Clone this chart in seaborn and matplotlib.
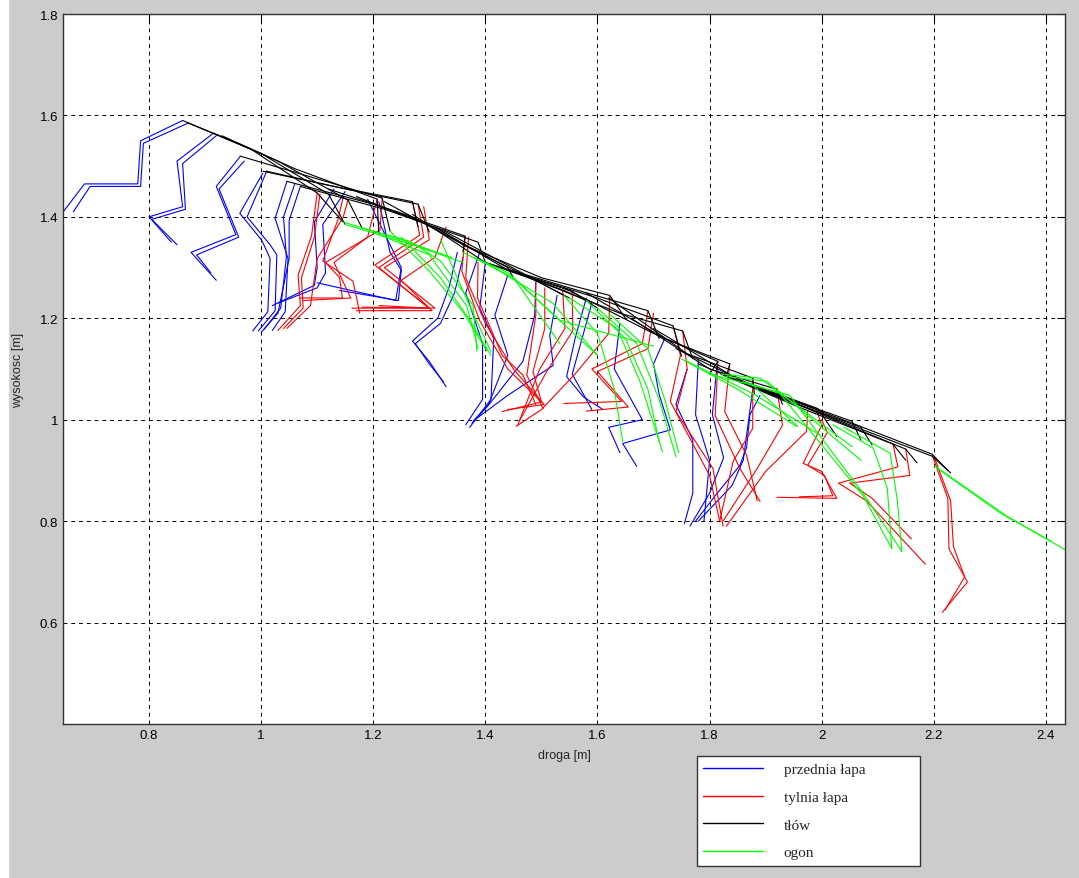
import numpy as np
import pandas as pd
import seaborn as sns
import matplotlib.pyplot as plt
from matplotlib.lines import Line2D
from matplotlib.patches import Rectangle

# stick-figure frames, data units [m]
front_paw = [
    [(0.86, 1.59), (0.785, 1.55), (0.78, 1.465), (0.685, 1.465), (0.647, 1.41)],
    [(0.87, 1.585), (0.79, 1.545), (0.785, 1.46), (0.695, 1.46), (0.665, 1.41)],
    [(0.915, 1.565), (0.85, 1.51), (0.86, 1.42), (0.80, 1.40), (0.84, 1.35)],
    [(0.92, 1.56), (0.86, 1.505), (0.865, 1.415), (0.805, 1.395), (0.85, 1.345)],
    [(0.962, 1.518), (0.92, 1.46), (0.955, 1.365), (0.875, 1.33), (0.92, 1.275)],
    [(0.97, 1.51), (0.925, 1.455), (0.96, 1.36), (0.885, 1.325), (0.91, 1.29)],
    [(1.003, 1.486), (0.962, 1.407), (1.001, 1.354), (1.016, 1.318), (1.012, 1.213), (0.985, 1.175)],
    [(1.01, 1.49), (0.975, 1.40), (1.016, 1.345), (1.028, 1.325), (1.025, 1.215), (0.995, 1.175)],
    [(1.046, 1.47), (1.025, 1.397), (1.048, 1.318), (1.043, 1.213), (1.02, 1.176)],
    [(1.07, 1.46), (1.05, 1.393), (1.05, 1.318), (1.03, 1.21), (1.0, 1.172)],
    [(1.06, 1.465), (1.04, 1.40), (1.045, 1.32), (1.035, 1.22), (1.005, 1.178)],
    [(1.13, 1.455), (1.095, 1.39), (1.10, 1.30), (1.095, 1.265), (1.02, 1.225)],
    [(1.15, 1.45), (1.11, 1.385), (1.115, 1.29), (1.10, 1.26), (1.03, 1.23)],
    [(1.19, 1.435), (1.25, 1.30), (1.24, 1.235), (1.10, 1.27)],
    [(1.21, 1.43), (1.23, 1.33), (1.25, 1.295), (1.245, 1.235), (1.14, 1.255)],
    [(1.35, 1.33), (1.335, 1.26), (1.315, 1.20), (1.27, 1.155), (1.30, 1.115), (1.33, 1.065)],
    [(1.36, 1.32), (1.345, 1.25), (1.32, 1.19), (1.275, 1.15), (1.30, 1.11), (1.325, 1.075)],
    [(1.39, 1.33), (1.365, 1.25), (1.395, 1.15), (1.395, 1.04), (1.365, 0.99)],
    [(1.40, 1.31), (1.39, 1.22), (1.415, 1.16), (1.41, 1.04), (1.372, 0.985)],
    [(1.44, 1.285), (1.417, 1.206), (1.44, 1.127), (1.405, 1.028), (1.376, 0.993)],
    [(1.49, 1.272), (1.488, 1.206), (1.467, 1.115), (1.408, 1.032), (1.378, 0.997)],
    [(1.528, 1.245), (1.515, 1.166), (1.521, 1.107), (1.44, 1.048), (1.385, 1.003)],
    [(1.58, 1.24), (1.56, 1.16), (1.545, 1.085), (1.575, 1.045), (1.61, 1.02)],
    [(1.59, 1.23), (1.57, 1.15), (1.555, 1.09), (1.59, 1.02)],
    [(1.64, 1.19), (1.63, 1.10), (1.68, 1.0), (1.62, 0.985), (1.64, 0.935)],
    [(1.72, 1.16), (1.70, 1.11), (1.71, 1.05), (1.73, 0.98), (1.645, 0.953), (1.67, 0.908)],
    [(1.76, 1.10), (1.74, 1.03), (1.77, 0.96), (1.77, 0.855), (1.755, 0.795)],
    [(1.78, 1.12), (1.775, 1.01), (1.80, 0.92), (1.79, 0.80)],
    [(1.813, 1.105), (1.805, 1.01), (1.825, 0.925), (1.80, 0.855), (1.765, 0.79)],
    [(1.877, 1.06), (1.86, 0.92), (1.84, 0.87), (1.78, 0.80)],
    [(1.89, 1.048), (1.872, 1.01), (1.866, 0.945), (1.854, 0.91), (1.81, 0.85), (1.775, 0.80)],
]

hind_paw = [
    [(1.10, 1.447), (1.09, 1.363), (1.066, 1.285), (1.07, 1.225), (1.03, 1.176)],
    [(1.105, 1.445), (1.095, 1.36), (1.072, 1.28), (1.075, 1.22), (1.04, 1.18)],
    [(1.155, 1.433), (1.146, 1.398), (1.10, 1.318), (1.088, 1.225), (1.046, 1.18)],
    [(1.146, 1.437), (1.137, 1.394), (1.11, 1.313), (1.164, 1.273), (1.176, 1.21)],
    [(1.207, 1.435), (1.19, 1.36), (1.13, 1.31), (1.16, 1.24), (1.075, 1.235)],
    [(1.216, 1.437), (1.212, 1.374), (1.115, 1.31), (1.14, 1.28), (1.145, 1.24), (1.07, 1.24)],
    [(1.27, 1.43), (1.283, 1.364), (1.203, 1.305), (1.30, 1.22), (1.162, 1.22)],
    [(1.28, 1.425), (1.29, 1.36), (1.21, 1.30), (1.305, 1.215), (1.17, 1.215)],
    [(1.29, 1.42), (1.30, 1.355), (1.22, 1.30), (1.31, 1.22), (1.18, 1.222)],
    [(1.33, 1.38), (1.31, 1.32), (1.25, 1.275), (1.30, 1.22), (1.21, 1.225)],
    [(1.364, 1.362), (1.358, 1.293), (1.39, 1.195), (1.44, 1.10), (1.50, 1.035), (1.43, 1.016)],
    [(1.37, 1.36), (1.365, 1.28), (1.40, 1.19), (1.45, 1.10), (1.505, 1.03), (1.44, 1.02)],
    [(1.387, 1.31), (1.386, 1.24), (1.43, 1.127), (1.467, 1.088), (1.49, 1.03)],
    [(1.49, 1.27), (1.49, 1.206), (1.474, 1.088), (1.503, 1.022)],
    [(1.506, 1.26), (1.506, 1.18), (1.485, 1.095), (1.50, 1.035)],
    [(1.538, 1.253), (1.542, 1.18), (1.497, 1.10), (1.458, 0.99)],
    [(1.555, 1.25), (1.556, 1.175), (1.51, 1.096), (1.462, 1.0)],
    [(1.622, 1.243), (1.62, 1.17), (1.56, 1.09), (1.50, 1.02), (1.455, 0.987)],
    [(1.69, 1.215), (1.68, 1.15), (1.59, 1.10), (1.643, 1.036), (1.54, 1.032)],
    [(1.70, 1.21), (1.69, 1.14), (1.60, 1.095), (1.655, 1.025), (1.58, 1.017)],
    [(1.735, 1.185), (1.748, 1.127), (1.73, 1.036), (1.80, 0.89), (1.818, 0.80)],
    [(1.752, 1.175), (1.76, 1.10), (1.74, 1.016), (1.806, 0.904), (1.824, 0.79)],
    [(1.815, 1.115), (1.81, 1.008), (1.854, 0.904), (1.89, 0.839)],
    [(1.836, 1.111), (1.827, 1.016), (1.866, 0.93), (1.885, 0.84)],
    [(1.877, 1.082), (1.877, 0.983), (1.842, 0.918), (1.818, 0.80)],
    [(1.92, 1.062), (1.93, 0.989), (1.885, 0.904), (1.824, 0.80)],
    [(1.975, 1.017), (1.973, 0.977), (1.90, 0.898), (1.83, 0.79)],
    [(1.99, 1.022), (2.0, 0.989), (1.967, 0.914), (2.0, 0.898), (2.027, 0.845), (1.92, 0.847)],
    [(2.0, 1.0), (2.01, 0.975), (1.975, 0.91), (2.005, 0.89), (2.02, 0.85), (1.96, 0.848)],
    [(2.127, 0.952), (2.136, 0.907), (2.03, 0.875), (2.08, 0.84), (2.185, 0.715)],
    [(2.15, 0.942), (2.157, 0.89), (2.05, 0.875), (2.09, 0.845), (2.16, 0.765)],
    [(2.197, 0.93), (2.225, 0.845), (2.227, 0.745), (2.26, 0.68), (2.215, 0.62)],
    [(2.20, 0.928), (2.23, 0.84), (2.235, 0.75), (2.255, 0.69), (2.22, 0.625)],
]

torso = [
    [(0.86, 1.59), (0.98, 1.535), (1.10, 1.447), (1.146, 1.39)],
    [(0.87, 1.585), (1.0, 1.525), (1.12, 1.445), (1.15, 1.385)],
    [(0.915, 1.565), (1.03, 1.51), (1.155, 1.433), (1.18, 1.378)],
    [(0.93, 1.56), (1.06, 1.495), (1.207, 1.435), (1.21, 1.365)],
    [(0.962, 1.52), (1.10, 1.475), (1.216, 1.437), (1.23, 1.372)],
    [(1.003, 1.49), (1.13, 1.46), (1.27, 1.43), (1.28, 1.38)],
    [(1.01, 1.49), (1.15, 1.455), (1.28, 1.425), (1.30, 1.37)],
    [(1.046, 1.47), (1.20, 1.425), (1.364, 1.362), (1.36, 1.33)],
    [(1.07, 1.46), (1.22, 1.415), (1.387, 1.35), (1.40, 1.31)],
    [(1.12, 1.455), (1.27, 1.40), (1.44, 1.30), (1.45, 1.28)],
    [(1.17, 1.44), (1.33, 1.37), (1.49, 1.275), (1.54, 1.245)],
    [(1.22, 1.43), (1.36, 1.345), (1.506, 1.265), (1.55, 1.24)],
    [(1.27, 1.405), (1.40, 1.31), (1.54, 1.255), (1.58, 1.235)],
    [(1.31, 1.38), (1.44, 1.295), (1.555, 1.253), (1.60, 1.22)],
    [(1.36, 1.345), (1.50, 1.28), (1.622, 1.245), (1.65, 1.20)],
    [(1.40, 1.31), (1.55, 1.26), (1.69, 1.215), (1.71, 1.16)],
    [(1.44, 1.295), (1.60, 1.24), (1.735, 1.185), (1.75, 1.125)],
    [(1.49, 1.275), (1.64, 1.21), (1.752, 1.175), (1.77, 1.12)],
    [(1.54, 1.26), (1.70, 1.17), (1.815, 1.115), (1.80, 1.09)],
    [(1.58, 1.25), (1.72, 1.16), (1.836, 1.11), (1.83, 1.085)],
    [(1.62, 1.24), (1.76, 1.13), (1.877, 1.082), (1.88, 1.05)],
    [(1.66, 1.20), (1.80, 1.10), (1.92, 1.06), (1.93, 1.03)],
    [(1.70, 1.18), (1.85, 1.08), (1.993, 1.022), (2.027, 0.967)],
    [(1.74, 1.14), (1.88, 1.065), (2.054, 0.997), (2.07, 0.96)],
    [(1.78, 1.11), (1.92, 1.045), (2.07, 0.985), (2.09, 0.95)],
    [(1.82, 1.09), (1.97, 1.02), (2.127, 0.952), (2.15, 0.92)],
    [(1.86, 1.075), (2.0, 1.01), (2.15, 0.942), (2.17, 0.915)],
    [(1.87, 1.07), (2.05, 0.995), (2.197, 0.932), (2.225, 0.90)],
    [(1.88, 1.065), (2.05, 0.99), (2.197, 0.928), (2.23, 0.895)],
]

tail = [
    [(1.146, 1.39), (1.25, 1.355), (1.34, 1.32)],
    [(1.15, 1.385), (1.27, 1.345), (1.36, 1.31)],
    [(1.18, 1.378), (1.265, 1.352), (1.32, 1.313), (1.378, 1.226), (1.385, 1.135)],
    [(1.21, 1.365), (1.30, 1.325), (1.367, 1.224), (1.387, 1.14)],
    [(1.23, 1.372), (1.30, 1.293), (1.36, 1.213), (1.403, 1.135)],
    [(1.25, 1.36), (1.32, 1.28), (1.37, 1.20), (1.41, 1.127)],
    [(1.32, 1.355), (1.373, 1.222), (1.41, 1.135)],
    [(1.36, 1.33), (1.45, 1.28), (1.533, 1.15)],
    [(1.38, 1.32), (1.44, 1.29), (1.60, 1.127)],
    [(1.40, 1.31), (1.52, 1.23), (1.60, 1.127)],
    [(1.45, 1.28), (1.533, 1.196), (1.70, 1.145)],
    [(1.55, 1.24), (1.635, 1.18), (1.676, 1.075), (1.716, 0.937)],
    [(1.54, 1.245), (1.60, 1.17), (1.63, 1.06), (1.645, 0.957)],
    [(1.58, 1.235), (1.65, 1.16), (1.69, 1.06), (1.71, 0.957)],
    [(1.60, 1.22), (1.67, 1.15), (1.71, 1.04), (1.74, 0.927)],
    [(1.62, 1.21), (1.69, 1.14), (1.72, 1.04), (1.745, 0.935)],
    [(1.75, 1.12), (1.85, 1.06), (1.955, 0.987)],
    [(1.76, 1.115), (1.88, 1.05), (1.997, 0.97)],
    [(1.80, 1.09), (1.877, 1.068), (1.957, 0.987)],
    [(1.82, 1.09), (1.89, 1.082), (2.054, 0.947)],
    [(1.83, 1.085), (1.902, 1.076), (2.07, 0.92)],
    [(1.86, 1.075), (1.925, 1.052), (2.074, 0.85), (2.125, 0.746)],
    [(1.87, 1.07), (1.943, 1.048), (2.077, 0.85), (2.143, 0.74)],
    [(2.02, 0.99), (2.092, 0.944), (2.117, 0.865), (2.125, 0.746)],
    [(2.04, 0.985), (2.122, 0.934), (2.135, 0.84), (2.143, 0.74)],
    [(2.20, 0.91), (2.33, 0.81), (2.44, 0.74)],
    [(2.205, 0.905), (2.32, 0.815), (2.41, 0.76)],
]

parts = ["przednia łapa", "tylnia łapa", "tłów", "ogon"]
colors = ["#0000ff", "#ff0000", "#000000", "#00ff00"]
x_ticks = [0.8, 1.0, 1.2, 1.4, 1.6, 1.8, 2.0, 2.2, 2.4]
x_labels = ["0.8", "1", "1.2", "1.4", "1.6", "1.8", "2", "2.2", "2.4"]
y_ticks = [0.6, 0.8, 1.0, 1.2, 1.4, 1.6, 1.8]
y_labels = ["0.6", "0.8", "1", "1.2", "1.4", "1.6", "1.8"]

rows = []
for part, lines in zip(parts, [front_paw, hind_paw, torso, tail]):
    for i, line in enumerate(lines):
        for x, y in line:
            rows.append({"part": part, "line": f"{part} {i}", "x": x, "y": y})
df = pd.DataFrame(rows)

sns.set_style("white")
plt.rcParams['font.family'] = ['Liberation Sans', 'DejaVu Sans']

fig = plt.figure(figsize=(10.79, 8.79), dpi=100, facecolor="#cccccc")
fig.patches.append(Rectangle((0, 0), 8 / 1079, 1, transform=fig.transFigure,
                             color="white", zorder=-1))
ax = fig.add_axes([63 / 1079, 1 - 725 / 879, 1002 / 1079, 710 / 879])

sns.lineplot(data=df, x="x", y="y", hue="part", units="line", estimator=None,
             sort=False, palette=dict(zip(parts, colors)), linewidth=0.8,
             legend=False, ax=ax)

ax.set_xlim(0.6466, 2.434)
ax.set_ylim(0.4, 1.8)
ax.set_xticks(x_ticks)
ax.set_xticklabels(x_labels)
ax.set_yticks(y_ticks)
ax.set_yticklabels(y_labels)
ax.grid(True, color="black", linestyle=(0, (4, 4)), linewidth=0.7)
ax.tick_params(direction="in", top=True, right=True, length=6, width=0.8,
               labelsize=9.5, colors="black")
for s in ax.spines.values():
    s.set_color("#333333")
    s.set_linewidth(1.0)
ax.set_xlabel("droga [m]", fontsize=9, labelpad=6)
ax.set_ylabel("wysokosc [m]", fontsize=9, labelpad=11)

# legend sits below the axes, as in the original figure
handles = [Line2D([0], [0], color=c, lw=1) for c in colors]
fig.legend(handles, parts, loc="upper left",
           bbox_to_anchor=(697 / 1079, 1 - 866 / 879, 223 / 1079, 109 / 879),
           mode="expand", borderaxespad=0, fancybox=False, framealpha=1,
           edgecolor="#333333", facecolor="white",
           prop={"family": "Liberation Serif", "size": 11},
           handlelength=3.9, handletextpad=1.35, labelspacing=0.92, borderpad=0.42)

fig.savefig("out.png", dpi=100, facecolor=fig.get_facecolor())
